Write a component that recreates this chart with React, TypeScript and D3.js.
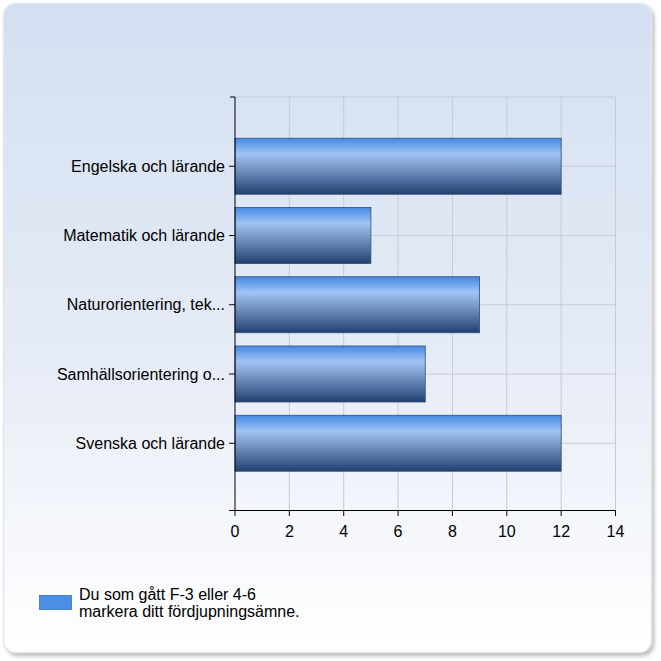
import { useEffect, useRef } from "react";
import * as d3 from "d3";

const categories = [
  "Engelska och lärande",
  "Matematik och lärande",
  "Naturorientering, tek...",
  "Samhällsorientering o...",
  "Svenska och lärande",
];
const values = [12, 5, 9, 7, 12];
const xTicks = [0, 2, 4, 6, 8, 10, 12, 14];
const legendLines = ["Du som gått F-3 eller 4-6", "markera ditt fördjupningsämne."];

const W = 661;
const H = 661;
const FONT = "Arial, 'Liberation Sans', sans-serif";

export default function App() {
  const svgRef = useRef<SVGSVGElement>(null);

  useEffect(() => {
    const svg = d3.select(svgRef.current);
    svg.selectAll("*").remove();
    svg.attr("width", W).attr("height", H);

    const defs = svg.append("defs");
    const bg = defs
      .append("linearGradient")
      .attr("id", "bg")
      .attr("x1", 0)
      .attr("y1", 0)
      .attr("x2", 0)
      .attr("y2", 1);
    bg.append("stop").attr("offset", "0%").attr("stop-color", "#d3dff1");
    bg.append("stop").attr("offset", "55%").attr("stop-color", "#e6ecf6");
    bg.append("stop").attr("offset", "100%").attr("stop-color", "#ffffff");

    const bar = defs
      .append("linearGradient")
      .attr("id", "bar")
      .attr("x1", 0)
      .attr("y1", 0)
      .attr("x2", 0)
      .attr("y2", 1);
    [
      ["0%", "#4a88e0"],
      ["12%", "#6aa2ec"],
      ["28%", "#a0c4f4"],
      ["50%", "#7d9dca"],
      ["75%", "#4f6fa0"],
      ["100%", "#22406e"],
    ].forEach(([o, c]) => bar.append("stop").attr("offset", o).attr("stop-color", c));

    const shadow = defs.append("filter").attr("id", "shadow").attr("x", "-5%").attr("y", "-5%").attr("width", "110%").attr("height", "110%");
    shadow.append("feGaussianBlur").attr("stdDeviation", 2);

    // frame
    svg
      .append("rect")
      .attr("x", 6)
      .attr("y", 6)
      .attr("width", 648)
      .attr("height", 650)
      .attr("rx", 12)
      .attr("fill", "#9a9a9a")
      .attr("opacity", 0.7)
      .attr("filter", "url(#shadow)");
    svg
      .append("rect")
      .attr("x", 3.5)
      .attr("y", 3.5)
      .attr("width", 648)
      .attr("height", 649)
      .attr("rx", 12)
      .attr("fill", "url(#bg)")
      .attr("stroke", "#e4e8ee")
      .attr("stroke-width", 1.5);

    const x = d3.scaleLinear().domain([0, 14]).range([235, 615.5]);
    const y = d3.scaleLinear().domain([0, categories.length + 1]).range([97, 512.5]);
    const barH = 56;

    const g = svg.append("g");

    // grid
    g.selectAll("line.vg")
      .data(xTicks.slice(1))
      .join("line")
      .attr("x1", (d) => x(d))
      .attr("x2", (d) => x(d))
      .attr("y1", 97)
      .attr("y2", 510)
      .attr("stroke", "#c6cbd3")
      .attr("stroke-width", 1);
    g.selectAll("line.hg")
      .data([0, 1, 2, 3, 4, 5])
      .join("line")
      .attr("x1", 235)
      .attr("x2", x(14))
      .attr("y1", (d) => y(d))
      .attr("y2", (d) => y(d))
      .attr("stroke", "#c6cbd3")
      .attr("stroke-width", 1);

    // bars
    g.selectAll("rect.bar")
      .data(values)
      .join("rect")
      .attr("x", x(0))
      .attr("y", (_, i) => y(i + 1) - barH / 2)
      .attr("width", (d) => x(d) - x(0))
      .attr("height", barH)
      .attr("fill", "url(#bar)")
      .attr("stroke", "#2e4f80")
      .attr("stroke-width", 0.8);

    // y axis
    g.append("line")
      .attr("x1", 235)
      .attr("x2", 235)
      .attr("y1", 97)
      .attr("y2", 510)
      .attr("stroke", "#000");
    g.append("line")
      .attr("x1", 230)
      .attr("x2", 235)
      .attr("y1", 97)
      .attr("y2", 97)
      .attr("stroke", "#000");
    g.selectAll("line.ct")
      .data(categories)
      .join("line")
      .attr("x1", 229)
      .attr("x2", 235)
      .attr("y1", (_, i) => y(i + 1))
      .attr("y2", (_, i) => y(i + 1))
      .attr("stroke", "#000");
    g.selectAll("text.cat")
      .data(categories)
      .join("text")
      .attr("x", 225)
      .attr("y", (_, i) => y(i + 1) + 5.5)
      .attr("text-anchor", "end")
      .attr("font-family", FONT)
      .attr("font-size", 16)
      .attr("fill", "#000")
      .text((d) => d);

    // x axis
    g.append("line")
      .attr("x1", 229)
      .attr("x2", x(14))
      .attr("y1", 510.5)
      .attr("y2", 510.5)
      .attr("stroke", "#000");
    g.selectAll("line.xt")
      .data(xTicks)
      .join("line")
      .attr("x1", (d) => x(d))
      .attr("x2", (d) => x(d))
      .attr("y1", 510)
      .attr("y2", 516)
      .attr("stroke", "#000");
    g.selectAll("text.xl")
      .data(xTicks)
      .join("text")
      .attr("x", (d) => x(d))
      .attr("y", 537)
      .attr("text-anchor", "middle")
      .attr("font-family", FONT)
      .attr("font-size", 16)
      .attr("fill", "#000")
      .text((d) => String(d));

    // legend
    svg
      .append("rect")
      .attr("x", 39.5)
      .attr("y", 595.5)
      .attr("width", 32)
      .attr("height", 14)
      .attr("fill", "#4a8ee6")
      .attr("stroke", "#3a6fb8")
      .attr("stroke-width", 0.8);
    svg
      .selectAll("text.leg")
      .data(legendLines)
      .join("text")
      .attr("x", 79)
      .attr("y", (_, i) => 600 + i * 17)
      .attr("font-family", FONT)
      .attr("font-size", 16)
      .attr("fill", "#000")
      .text((d) => d);
  }, []);

  return (
    <div style={{ position: "absolute", left: 0, top: 0 }}>
      <svg ref={svgRef} style={{ display: "block" }} />
    </div>
  );
}
